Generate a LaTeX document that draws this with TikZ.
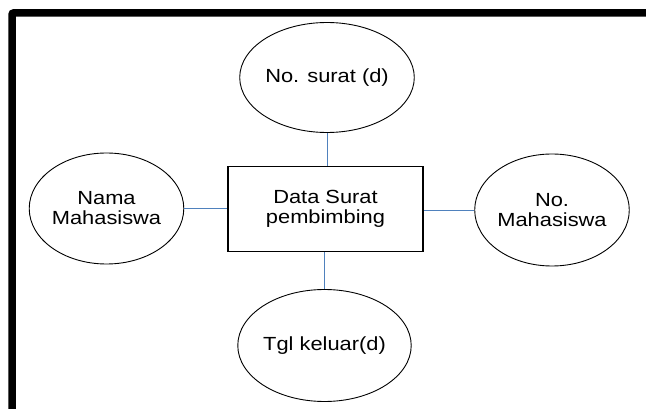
\documentclass[tikz,border=0pt]{standalone}
\usepackage{fontspec}
\setmainfont{Liberation Sans}[FakeStretch=1.15]
\usetikzlibrary{shapes.geometric}
\definecolor{linkblue}{HTML}{4F81BD}
\tikzset{
  attr/.style={ellipse, draw=black, line width=0.9pt, inner sep=0pt, align=center,
    font=\fontsize{19}{20}\selectfont},
  entity/.style={rectangle, draw=black, line width=1.1pt, inner sep=0pt, align=center,
    minimum width=195pt, minimum height=85pt, font=\fontsize{19}{20}\selectfont},
  link/.style={draw=linkblue, line width=0.9pt},
  frame/.style={line width=7.5pt, draw=black, rounded corners=2pt}
}
\begin{document}
\begin{tikzpicture}[x=1pt,y=-1pt]
\useasboundingbox (0,0) rectangle (646,409);
\draw[frame] (12,420) -- (12,12.8) -- (660,12.8);
\node[entity] (ent) at (325.5,209) {Data Surat\\pembimbing};
\node[attr, minimum width=154pt, minimum height=110pt] (nosurat) at (327,77.5) {No. surat (d)};
\node[attr, minimum width=153pt, minimum height=111pt] (nama) at (106.5,208.5) {Nama\\Mahasiswa};
\node[attr, minimum width=154pt, minimum height=112pt] (nomhs) at (552,210) {No.\\Mahasiswa};
\node[attr, minimum width=155pt, minimum height=112pt] (tgl) at (324.5,345.5) {Tgl keluar(d)};
\draw[link] (nosurat.south) -- (nosurat.south |- ent.north);
\draw[link] (nama.east) -- (nama.east -| ent.west);
\draw[link] (nomhs.west) -- (nomhs.west -| ent.east);
\draw[link] (tgl.north) -- (tgl.north |- ent.south);
\end{tikzpicture}
\end{document}
